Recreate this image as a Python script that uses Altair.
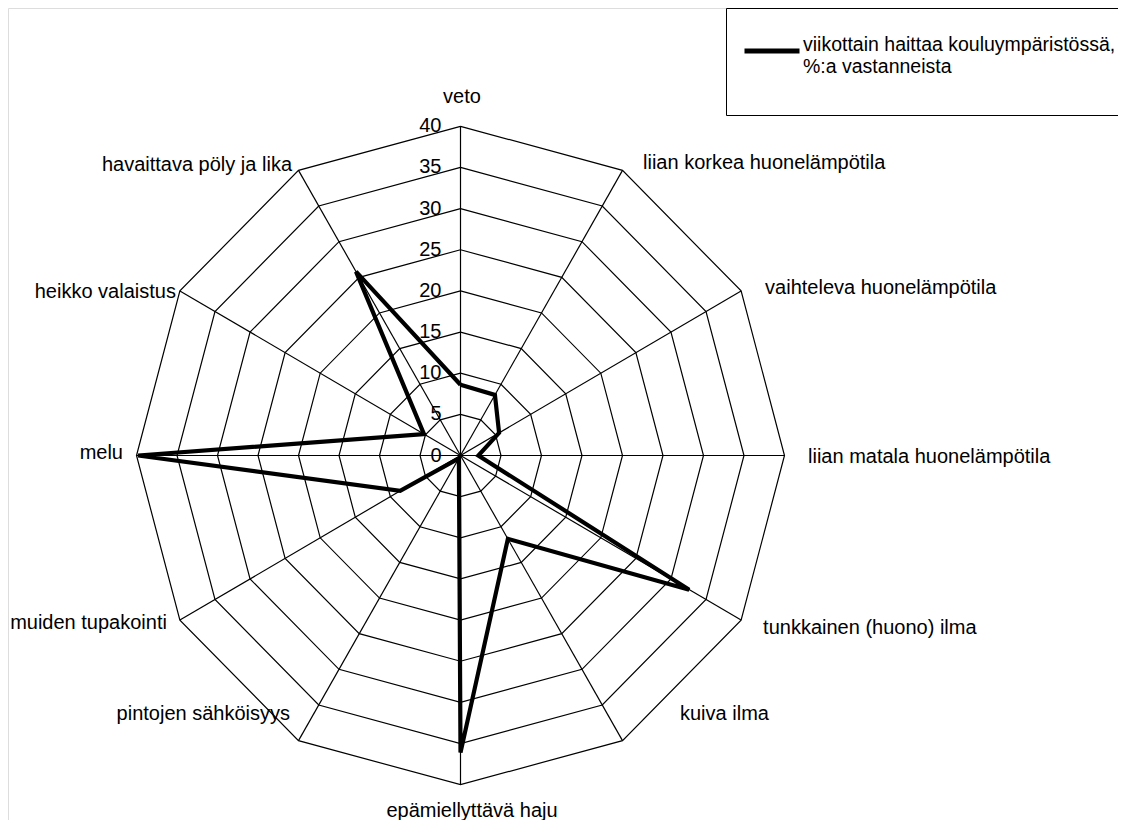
import altair as alt
import pandas as pd

# ---------------- data ----------------
categories = [
    "veto",
    "liian korkea huonelämpötila",
    "vaihteleva huonelämpötila",
    "liian matala huonelämpötila",
    "tunkkainen (huono) ilma",
    "kuiva ilma",
    "epämiellyttävä haju",
    "pintojen sähköisyys",
    "muiden tupakointi",
    "melu",
    "heikko valaistus",
    "havaittava pöly ja lika",
]
values = [8.6, 8.5, 5.5, 2.2, 32.6, 11.7, 36.1, 0.4, 8.6, 39.8, 5.2, 25.8]
ticks = [0, 5, 10, 15, 20, 25, 30, 35, 40]
series_name = "viikottain haittaa kouluympäristössä, %:a vastanneista"

N = len(categories)
RMAX = ticks[-1]

# ---------------- layout / style ----------------
FONT = "Liberation Sans"
FS = 20
kx, ky = 8.1, 8.23          # pixels per data unit (scan is slightly squeezed)
cx, cy = 452.5, 447.5       # centre of the radar inside the view (px)
W, H = 1110, 812
xs = alt.Scale(domain=[-cx / kx, (W - cx) / kx], nice=False, zero=False)
ys = alt.Scale(domain=[-(H - cy) / ky, cy / ky], nice=False, zero=False)
ANG = f"datum.idx * 2 * PI / {N}"

# label placement relative to the outer vertex (pixels) and alignment
lab_dx = [1.5, 20.5, 24, 23.5, 22, 57.5, 11.5, -8.5, -13, -13.5, -4, -6.5]
lab_dy = [-29.5, -7.6, -3, 1.5, 8, -27, 26.5, -27, 3, -2.5, 1, -5.6]
lab_align = ["center", "left", "left", "left", "left", "left",
             "center", "right", "right", "right", "right", "right"]

# tables built from the arrays
series_df = pd.DataFrame({
    "idx": list(range(N + 1)),
    "value": values + [values[0]],
    "category": categories + [categories[0]],
    "series": [series_name] * (N + 1),
})
rings_df = pd.DataFrame(
    [{"lvl": t, "idx": j} for t in ticks[1:] for j in range(N + 1)]
)
spokes_df = pd.DataFrame({"idx": list(range(N))})
ticks_df = pd.DataFrame({"lvl": ticks})
cats_df = pd.DataFrame({
    "idx": list(range(N)), "category": categories,
    "ddx": [d / kx for d in lab_dx], "ddy": [-d / ky for d in lab_dy],
    "align": lab_align,
})

X = lambda f: alt.X(f"{f}:Q", scale=xs, axis=None)
Y = lambda f: alt.Y(f"{f}:Q", scale=ys, axis=None)

rings = alt.Chart(rings_df).transform_calculate(
    x=f"datum.lvl * sin({ANG})", y=f"datum.lvl * cos({ANG})"
).mark_line(color="black", strokeWidth=1.2).encode(
    x=X("x"), y=Y("y"), detail="lvl:N", order="idx:Q"
)

spokes = alt.Chart(spokes_df).transform_calculate(
    x0="0", y0="0",
    x1=f"{RMAX} * sin({ANG})", y1=f"{RMAX} * cos({ANG})"
).mark_rule(color="black", strokeWidth=1.2).encode(
    x=X("x0"), y=Y("y0"), x2="x1:Q", y2="y1:Q"
)

series = alt.Chart(series_df).transform_calculate(
    x=f"datum.value * sin({ANG})", y=f"datum.value * cos({ANG})"
).mark_line(strokeWidth=4.2, strokeJoin="miter", strokeMiterLimit=4).encode(
    x=X("x"), y=Y("y"), order="idx:Q",
    color=alt.Color(
        "series:N",
        scale=alt.Scale(range=["black"]),
        legend=alt.Legend(
            title=" ",
            titleOrient="bottom",
            titleFontSize=17,
            titlePadding=10,
            orient="none",
            legendX=718,
            legendY=0,
            symbolType="stroke",
            symbolStrokeWidth=5,
            symbolSize=3025,
            symbolStrokeColor="black",
            symbolOffset=3,
            labelFont=FONT,
            labelFontSize=19.5,
            labelColor="black",
            labelLimit=600,
            labelOffset=1,
            labelBaseline="alphabetic",
            labelExpr="split(replace(datum.label, ', ', ',|'), '|')",
            strokeColor="black",
            padding=13,
            fillColor="white",
        ),
    ),
)

tick_labels = alt.Chart(ticks_df).transform_calculate(
    x="0", y="datum.lvl"
).mark_text(align="right", baseline="middle", dx=-19, font=FONT,
            fontSize=FS, color="black").encode(
    x=X("x"), y=Y("y"), text="lvl:Q"
)

lab_base = alt.Chart(cats_df).transform_calculate(
    a=ANG,
).transform_calculate(
    x=f"{RMAX} * sin(datum.a) + datum.ddx",
    y=f"{RMAX} * cos(datum.a) + datum.ddy",
)
lab_enc = dict(x=X("x"), y=Y("y"), text="category:N")
label_layers = [
    lab_base.transform_filter(f"datum.align == '{al}'").mark_text(
        align=al, baseline="middle", font=FONT, fontSize=FS, color="black"
    ).encode(**lab_enc)
    for al in ["left", "right", "center"]
]

chart = alt.layer(
    rings, spokes, series, tick_labels, *label_layers
).properties(
    width=W, height=H,
    autosize=alt.AutoSizeParams(type="none"),
    padding=0,
).configure_view(stroke=None).configure(background="white")

chart.save("out.html", embed_options={"renderer": "svg", "actions": False})
